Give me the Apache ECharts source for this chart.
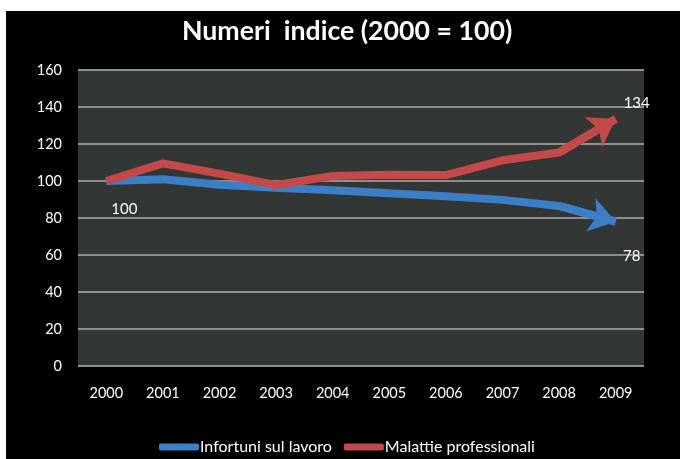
<!DOCTYPE html>
<html>
<head>
<meta charset="utf-8">
<script src="https://cdn.jsdelivr.net/npm/echarts@6/dist/echarts.min.js"></script>
<style>
html,body{margin:0;padding:0;background:#fff;}
#bg{position:absolute;left:6px;top:11px;width:674px;height:448px;background:#000;}
#c{position:absolute;left:0;top:0;width:680px;height:459px;}
</style>
</head>
<body>
<div id="bg"></div>
<div id="c"></div>
<script>
const years = ['2000','2001','2002','2003','2004','2005','2006','2007','2008','2009'];
const infortuni = [100, 101, 98, 96.3, 95, 93.4, 91.8, 89.8, 86.5, 78];
const malattie = [100, 109.5, 104, 97.8, 102.7, 103.4, 103.2, 111.2, 115.4, 133.5];
const yTicks = [0, 160, 20];
const FONT = 'Lato';
const BLUE = '#3c7fc6';
const RED = '#c44a4a';

function withLabels(arr, labels) {
  return arr.map((v, i) => {
    if (labels[i]) {
      return {value: v, label: {show: true, formatter: labels[i].text, position: 'inside', offset: labels[i].offset}};
    }
    return v;
  });
}

function arrowLine(arr, color) {
  const n = arr.length;
  return {
    silent: true,
    symbol: ['none', 'arrow'],
    symbolSize: [26, 26],
    label: {show: false},
    emphasis: {disabled: true},
    lineStyle: {color: color, width: 8, type: 'solid'},
    data: [[{coord: [n - 2, arr[n - 2]]}, {coord: [n - 1, arr[n - 1]]}]]
  };
}

const chart = echarts.init(document.getElementById('c'));
chart.setOption({
  backgroundColor: 'transparent',
  animation: false,
  title: {
    text: 'Numeri  indice (2000 = 100)',
    left: 177, top: 13,
    textStyle: {color: '#fff', fontFamily: FONT, fontWeight: 'bold', fontSize: 26.7}
  },
  legend: {
    bottom: -1, left: 154,
    icon: 'roundRect', itemWidth: 40, itemHeight: 7, itemGap: 12,
    textStyle: {color: '#fff', fontFamily: FONT, fontSize: 16, padding: [0, 0, 0, -4]},
    data: ['Infortuni sul lavoro', 'Malattie professionali']
  },
  grid: {left: 78, right: 36, top: 70, bottom: 93, show: true, backgroundColor: '#323635', borderWidth: 0},
  xAxis: {
    type: 'category', data: years, boundaryGap: true,
    axisLine: {show: false}, axisTick: {show: false},
    axisLabel: {color: '#fff', fontFamily: FONT, fontSize: 14.5, margin: 20}
  },
  yAxis: {
    type: 'value', min: yTicks[0], max: yTicks[1], interval: yTicks[2],
    axisLine: {show: false}, axisTick: {show: false},
    axisLabel: {color: '#fff', fontFamily: FONT, fontSize: 14.5, margin: 16},
    splitLine: {lineStyle: {color: '#8e8e8e', width: 2}}
  },
  series: [
    {
      name: 'Infortuni sul lavoro', type: 'line', color: BLUE,
      data: withLabels(infortuni, {0: {text: '100', offset: [18, 28]}, 9: {text: '78', offset: [16, 34]}}),
      showSymbol: true, symbol: 'circle', symbolSize: 0,
      lineStyle: {color: BLUE, width: 8},
      label: {color: '#fff', fontFamily: FONT, fontSize: 15},
      emphasis: {disabled: true},
      markLine: arrowLine(infortuni, BLUE),
      z: 3
    },
    {
      name: 'Malattie professionali', type: 'line', color: RED,
      data: withLabels(malattie, {9: {text: '134', offset: [21, -16]}}),
      showSymbol: true, symbol: 'circle', symbolSize: 0,
      lineStyle: {color: RED, width: 8},
      label: {color: '#fff', fontFamily: FONT, fontSize: 15},
      emphasis: {disabled: true},
      markLine: arrowLine(malattie, RED),
      z: 4
    }
  ]
});
</script>
</body>
</html>
